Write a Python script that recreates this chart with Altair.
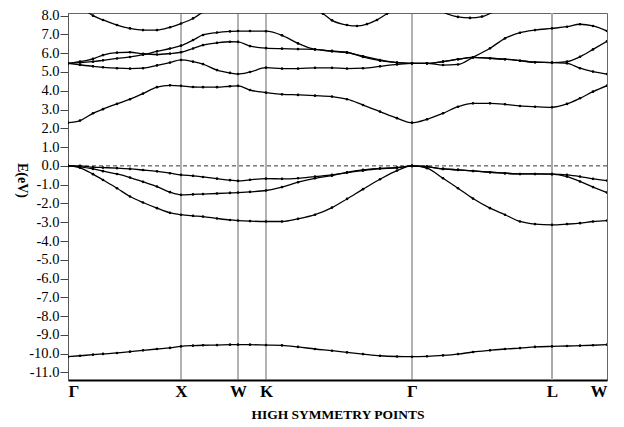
import altair as alt
import pandas as pd

# k-path positions (arbitrary path units) and labels
SYM_K = [0, 113, 170, 198, 344, 484, 539]
SYM_LABELS = ["Γ", "X", "W", "K", "Γ", "L", "W"]

# common k grid for the main bands
K = [0, 12, 25, 35, 49, 62, 75, 89, 102, 113, 125, 135, 149, 162, 170, 182, 198,
     214, 230, 247, 264, 279, 295, 312, 329, 344, 359, 375, 390, 405, 422, 437,
     452, 467, 484, 499, 512, 525, 539]

BAND1 = [-10.16, -10.11, -10.05, -10.01, -9.96, -9.89, -9.82, -9.75, -9.69, -9.61,
         -9.57, -9.55, -9.54, -9.52, -9.52, -9.52, -9.54, -9.56, -9.64, -9.75,
         -9.84, -9.93, -10.02, -10.11, -10.15, -10.16, -10.14, -10.09, -10.02,
         -9.91, -9.82, -9.75, -9.70, -9.64, -9.61, -9.59, -9.57, -9.55, -9.52]
BAND2 = [0.0, -0.10, -0.44, -0.75, -1.19, -1.63, -1.95, -2.25, -2.50, -2.60,
         -2.66, -2.70, -2.80, -2.88, -2.91, -2.94, -2.96, -2.96, -2.82, -2.60,
         -2.22, -1.76, -1.24, -0.71, -0.25, 0.0, -0.12, -0.66, -1.19, -1.74,
         -2.25, -2.60, -2.96, -3.10, -3.14, -3.10, -3.05, -2.96, -2.91]
BAND3 = [0.0, -0.05, -0.16, -0.28, -0.43, -0.62, -0.85, -1.10, -1.40, -1.54,
         -1.52, -1.50, -1.47, -1.44, -1.42, -1.38, -1.31, -1.13, -0.87, -0.66,
         -0.52, -0.34, -0.21, -0.14, -0.10, 0.0, -0.04, -0.16, -0.21, -0.27,
         -0.34, -0.39, -0.43, -0.43, -0.44, -0.57, -0.83, -1.13, -1.42]
BAND4 = [0.0, 0.0, -0.07, -0.09, -0.12, -0.16, -0.22, -0.29, -0.39, -0.48,
         -0.53, -0.59, -0.68, -0.76, -0.80, -0.74, -0.68, -0.69, -0.66, -0.57,
         -0.48, -0.36, -0.25, -0.14, -0.09, 0.0, -0.04, -0.16, -0.21, -0.27,
         -0.34, -0.39, -0.43, -0.43, -0.44, -0.48, -0.57, -0.69, -0.78]
BAND5 = [2.30, 2.41, 2.80, 3.02, 3.30, 3.55, 3.85, 4.19, 4.29, 4.26,
         4.20, 4.19, 4.19, 4.24, 4.26, 4.04, 3.90, 3.81, 3.78, 3.74,
         3.69, 3.55, 3.24, 2.89, 2.54, 2.30, 2.48, 2.80, 3.15, 3.33,
         3.33, 3.28, 3.19, 3.15, 3.12, 3.30, 3.60, 3.95, 4.27]
BAND6 = [5.46, 5.38, 5.30, 5.25, 5.20, 5.18, 5.20, 5.35, 5.50, 5.64,
         5.55, 5.42, 5.10, 4.95, 4.89, 5.00, 5.23, 5.18, 5.18, 5.22,
         5.22, 5.18, 5.20, 5.30, 5.40, 5.46, 5.46, 5.37, 5.40, 5.78,
         6.26, 6.79, 7.09, 7.23, 7.32, 7.41, 7.54, 7.45, 7.18]
BAND7 = [5.46, 5.55, 5.70, 5.90, 6.03, 6.05, 5.97, 5.93, 5.98, 6.05,
         6.25, 6.43, 6.55, 6.61, 6.60, 6.38, 6.27, 6.24, 6.22, 6.20,
         6.10, 6.03, 5.84, 5.64, 5.50, 5.46, 5.46, 5.55, 5.68, 5.78,
         5.73, 5.68, 5.60, 5.52, 5.50, 5.55, 5.81, 6.20, 6.63]
BAND8 = [5.46, 5.50, 5.55, 5.62, 5.72, 5.80, 5.92, 6.10, 6.25, 6.40,
         6.70, 6.97, 7.10, 7.16, 7.18, 7.18, 7.17, 6.95, 6.52, 6.20,
         6.12, 6.05, 5.80, 5.60, 5.50, 5.46, 5.46, 5.55, 5.68, 5.78,
         5.73, 5.68, 5.60, 5.52, 5.50, 5.46, 5.20, 5.02, 4.89]

# upper band pieces (run off the top of the plot)
UP1_K = [12, 25, 35, 49, 62, 75, 89, 102, 113, 125, 135]
UP1_E = [8.50, 8.00, 7.77, 7.50, 7.32, 7.23, 7.23, 7.38, 7.58, 7.85, 8.20]
UP2_K = [247, 255, 264, 279, 289, 299, 309, 319, 329]
UP2_E = [8.30, 8.10, 7.75, 7.50, 7.45, 7.55, 7.77, 8.10, 8.40]
UP3_K = [372, 390, 402, 414, 427]
UP3_E = [8.25, 7.93, 7.88, 7.95, 8.25]

Y_TICKS = list(range(-11, 9))

rows = []
for name, vals in [("b1", BAND1), ("b2", BAND2), ("b3", BAND3), ("b4", BAND4),
                   ("b5", BAND5), ("b6", BAND6), ("b7", BAND7), ("b8", BAND8)]:
    for k, e in zip(K, vals):
        rows.append({"band": name, "k": k, "E": e})
for name, ks, es in [("u1", UP1_K, UP1_E), ("u2", UP2_K, UP2_E), ("u3", UP3_K, UP3_E)]:
    for k, e in zip(ks, es):
        rows.append({"band": name, "k": k, "E": e})
df = pd.DataFrame(rows)

sym_df = pd.DataFrame({"k": SYM_K, "label": SYM_LABELS, "E": [0.0] * len(SYM_K)})

label_expr = " : ".join(
    f"datum.value == {k} ? '{lab}'" for k, lab in zip(SYM_K, SYM_LABELS)
) + " : ''"

SERIF = "Liberation Serif"

x_scale = alt.Scale(domain=[0, 539], nice=False, zero=False)
y_scale = alt.Scale(domain=[-11.4, 8.14], nice=False, zero=False)

x_axis = alt.Axis(
    values=SYM_K, labelExpr=label_expr, ticks=False, grid=False,
    labelFont=SERIF, labelFontSize=17, labelFontWeight="bold", labelColor="black",
    labelPadding=3, domainColor="black", domainWidth=2, labelOverlap=False,
    title="HIGH SYMMETRY POINTS", titleFont=SERIF, titleFontSize=13.5,
    titleFontWeight="bold", titleColor="black", titlePadding=8,
)
y_axis = alt.Axis(
    values=Y_TICKS,
    labelExpr="datum.value < 0 ? '-' + format(abs(datum.value), '.1f') : format(datum.value, '.1f')",
    grid=False, tickSize=8, tickColor="#444", labelPadding=1,
    labelOverlap=False, labelBound=False, labelFlush=False,
    labelFont=SERIF, labelFontSize=14.5, labelColor="black",
    domainColor="#555",
    title="E(eV)", titleFont=SERIF, titleFontSize=14, titleFontWeight="bold",
    titleColor="black", titleAngle=90, titleX=-47, titleY=167,
    titleAlign="center", titleBaseline="middle",
)

X_ENC = alt.X("k:Q", scale=x_scale, axis=x_axis)
Y_ENC = alt.Y("E:Q", scale=y_scale, axis=y_axis)

rules = alt.Chart(sym_df.iloc[[1, 2, 3, 4]]).mark_rule(color="#666", strokeWidth=1).encode(
    x=X_ENC
)
rule_l = alt.Chart(sym_df.iloc[[5]]).mark_rule(color="#aaa", strokeWidth=2).encode(
    x=X_ENC
)
zero = alt.Chart(pd.DataFrame({"E": [0.0]})).mark_rule(
    color="black", strokeWidth=0.8, strokeDash=[4, 3]
).encode(y=Y_ENC)

lines = alt.Chart(df).mark_line(
    color="black", strokeWidth=1.3, interpolate="monotone", clip=True,
    point=alt.OverlayMarkDef(filled=True, size=7, color="black"),
).encode(
    x=X_ENC,
    y=Y_ENC,
    detail="band:N",
)

chart = alt.layer(rules, rule_l, zero, lines).properties(
    width=539, height=367,
    autosize=alt.AutoSizeParams(type="none"),
    padding={"left": 60, "top": 5, "right": 9, "bottom": 40},
).configure_view(stroke="#666", strokeWidth=1)

chart.save("out.html", embed_options={"renderer": "svg", "actions": False})
